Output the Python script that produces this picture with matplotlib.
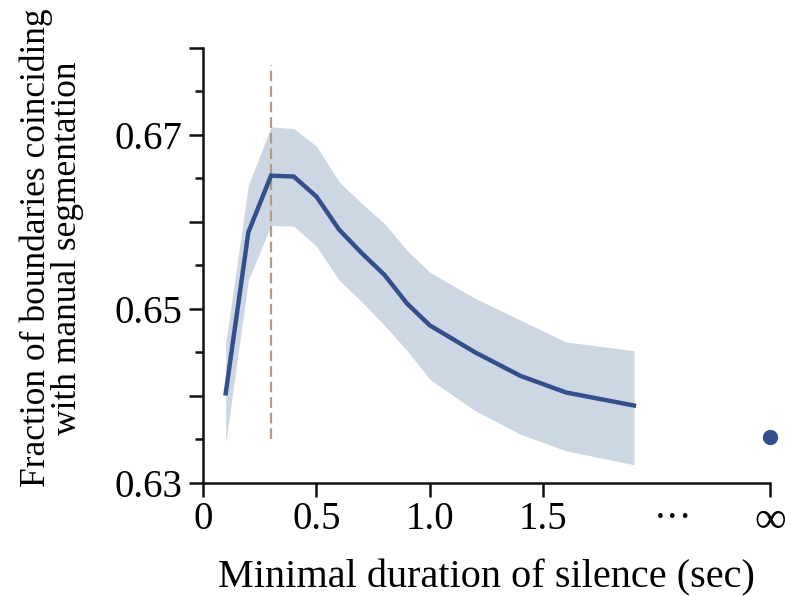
import matplotlib
matplotlib.use("Agg")
import matplotlib.pyplot as plt
from matplotlib.ticker import MultipleLocator, FixedLocator

# Data
durations = [0.1, 0.2, 0.3, 0.4, 0.5, 0.6, 0.7, 0.8, 0.9, 1.0, 1.2, 1.4, 1.6, 1.9]
mean_frac = [0.6403, 0.6588, 0.6653, 0.6652, 0.6629, 0.6591, 0.6564, 0.6539,
             0.6506, 0.6481, 0.6450, 0.6423, 0.6404, 0.6389]
upper_frac = [0.6460, 0.6642, 0.6709, 0.6707, 0.6687, 0.6646, 0.6621, 0.6598,
              0.6567, 0.6542, 0.6512, 0.6487, 0.6462, 0.6452]
lower_frac = [0.6346, 0.6533, 0.6596, 0.6595, 0.6572, 0.6533, 0.6508, 0.6481,
              0.6452, 0.6419, 0.6383, 0.6356, 0.6337, 0.6321]
inf_pos = 2.5
inf_value = 0.6353
best_duration = 0.3
best_line_range = [0.635, 0.678]
xtick_pos = [0, 0.5, 1.0, 1.5, 2.075, 2.5]
xtick_labels = ["0", "0.5", "1.0", "1.5", "\u00b7\u00b7\u00b7", "\u221e"]
ytick_major = [0.63, 0.64, 0.65, 0.66, 0.67, 0.68]
ytick_labels = ["0.63", "", "0.65", "", "0.67", ""]

plt.rcParams['font.family'] = ['Liberation Serif', 'DejaVu Serif']

fig = plt.figure(figsize=(7.85, 5.96), dpi=100)
ax = fig.add_axes([0.2586, 0.1896, 0.7224, 0.7304])

line_color = '#34508c'
band_color = '#cdd7e3'

ax.fill_between(durations, lower_frac, upper_frac, color=band_color, lw=0, zorder=1)
ax.vlines(best_duration, best_line_range[0], best_line_range[1], colors='#b39c82',
          linestyles=(0, (4.8, 2.2)), lw=1.6, zorder=2)
ax.plot(durations, mean_frac, color=line_color, lw=3.2, zorder=3,
        solid_joinstyle='miter')
ax.plot([inf_pos], [inf_value], 'o', color=line_color, ms=10, zorder=4, clip_on=False)

ax.set_xlim(0, 2.5)
ax.set_ylim(0.63, 0.68)

for s in ['top', 'right']:
    ax.spines[s].set_visible(False)
for s in ['left', 'bottom']:
    ax.spines[s].set_linewidth(1.8)
    ax.spines[s].set_color('#111111')

ax.xaxis.set_major_locator(FixedLocator(xtick_pos))
ax.set_xticklabels(xtick_labels)
ax.yaxis.set_major_locator(FixedLocator(ytick_major))
ax.set_yticklabels(ytick_labels)
ax.yaxis.set_minor_locator(MultipleLocator(0.005))

ax.tick_params(axis='both', which='major', labelsize=28, width=1.8, length=10,
               direction='out', color='#111111')
ax.tick_params(axis='y', which='minor', width=1.8, length=6, direction='out',
               color='#111111')
ax.tick_params(axis='x', pad=3)
ax.tick_params(axis='y', pad=5)

# hide tick mark for the ellipsis label
xt = ax.xaxis.get_major_ticks()
xt[4].tick1line.set_visible(False)
xt[5].label1.set_fontsize(32)

ax.set_xlabel("Minimal duration of silence (sec)", fontsize=29, labelpad=13)
ax.set_ylabel("Fraction of boundaries coinciding\nwith manual segmentation",
              fontsize=25.5, labelpad=12, linespacing=0.92)
ax.yaxis.set_label_coords(-0.21, 0.54)

fig.savefig("out.png", dpi=100)
